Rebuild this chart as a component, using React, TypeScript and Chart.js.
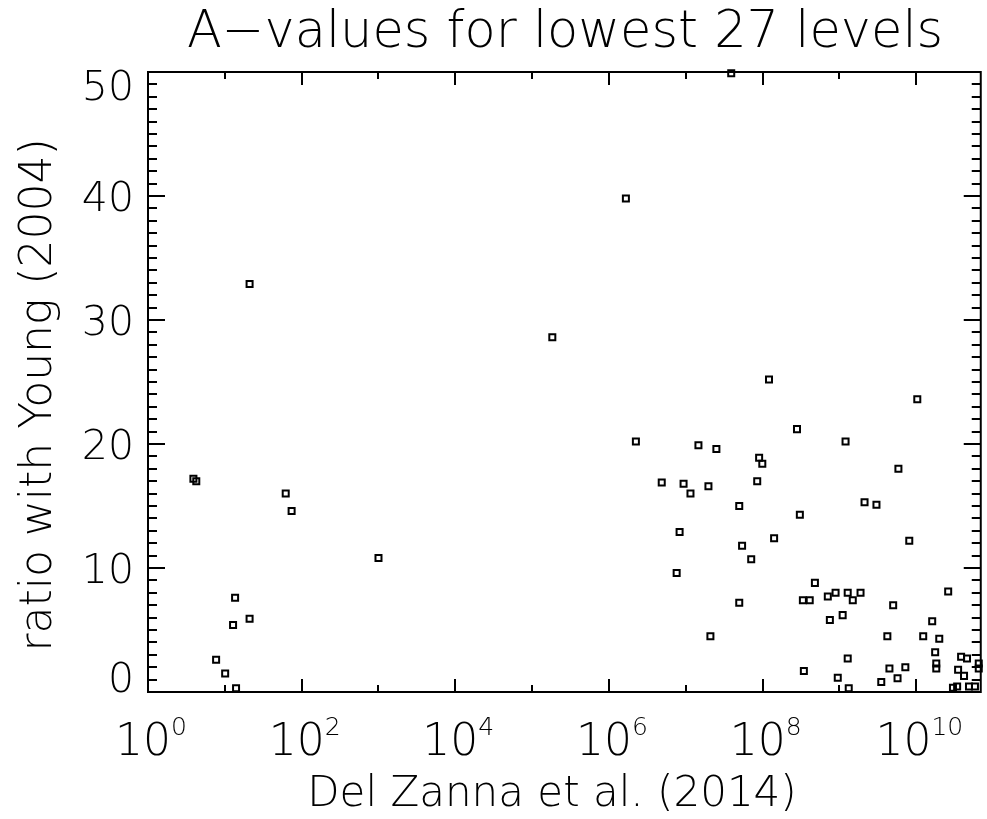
import React, { useEffect, useRef } from "react";
import { Chart, registerables } from "chart.js";

Chart.register(...registerables);

// ---- text ----
const TITLE = "A\u2212values for lowest 27 levels";
const X_TITLE = "Del Zanna et al. (2014)";
const Y_TITLE = "ratio with Young (2004)";

// ---- axis ranges & ticks ----
const X_MIN = 1;
const X_MAX = 6.9e10;
const Y_MIN = 0;
const Y_MAX = 50;
const Y_LABELS = [0, 10, 20, 30, 40, 50];
const X_LABEL_EXPONENTS = [0, 2, 4, 6, 8, 10];
const X_TICK_EXPONENTS = [0, 1, 2, 3, 4, 5, 6, 7, 8, 9, 10];

// ---- data: A-values (Del Zanna et al. 2014) vs ratio with Young (2004) ----
const xValues = [
  3.9, 4.25, 62, 74, 1000, 13.6, 12.8, 21, 7.7, 10.1, 14, 21,
  1.83e5, 1.66e6, 3.9e7, 2.24e6, 1.21e8, 1.03e10, 1.46e7, 2.5e7, 2.8e8, 1.2e9,
  9.0e7, 9.9e7, 5.85e9, 4.86e6, 9.35e6, 1.15e7, 1.97e7, 8.5e7, 4.96e7, 2.12e9,
  3.03e9, 3.05e8, 8.3e6, 1.41e8, 5.4e7, 7.1e7, 8.1e9, 7.6e6, 4.79e8, 4.96e7,
  3.34e8, 4.1e8, 7.05e8, 8.9e8, 1.28e9, 1.49e9, 1.88e9, 5.0e9, 2.6e10, 7.5e8,
  1.1e9, 2.09e7, 4.2e9, 1.23e10, 1.99e10, 1.61e10, 1.28e9, 3.44e8, 9.5e8, 1.32e9,
  3.5e9, 4.47e9, 5.7e9, 7.2e9, 1.76e10, 1.82e10, 1.82e10, 3.83e10, 4.57e10, 3.5e10,
  4.18e10, 6.5e10, 6.5e10, 3.0e10, 3.4e10, 4.85e10, 5.8e10,
];
const yValues = [
  17.2, 17.0, 16.0, 14.6, 10.8, 7.6, 5.4, 5.9, 2.6, 1.5, 0.3, 32.9,
  28.6, 39.8, 49.9, 20.2, 25.2, 23.6, 19.9, 19.6, 21.2, 20.2,
  18.9, 18.4, 18.0, 16.9, 16.8, 16.0, 16.6, 17.0, 15.0, 15.3,
  15.1, 14.3, 12.9, 12.4, 11.8, 10.7, 12.2, 9.6, 8.8, 7.2,
  7.4, 7.4, 7.7, 8.0, 8.0, 7.4, 8.0, 7.0, 8.1, 5.8,
  6.2, 4.5, 4.5, 4.5, 4.3, 5.7, 2.7, 1.7, 1.15, 0.3,
  0.8, 1.9, 1.1, 2.0, 3.2, 2.3, 1.9, 2.85, 2.7, 1.8,
  1.3, 2.3, 1.9, 0.35, 0.45, 0.45, 0.45,
];

const FONT = '"DejaVu Sans", "Liberation Sans", sans-serif';
const W = "200";

const idlFrame = {
  id: "idlFrame",
  afterDraw(chart: any) {
    const ctx: CanvasRenderingContext2D = chart.ctx;
    const { left, right, top, bottom } = chart.chartArea;
    const xs = chart.scales.x;
    const ys = chart.scales.y;
    ctx.save();
    ctx.strokeStyle = "#000";
    ctx.fillStyle = "#000";
    ctx.lineWidth = 2;
    ctx.strokeRect(left, top, right - left, bottom - top);

    ctx.beginPath();
    for (let v = Y_MIN; v <= Y_MAX; v += 1) {
      const py = Math.round(ys.getPixelForValue(v));
      const len = v % 10 === 0 ? 17 : 9;
      ctx.moveTo(left, py);
      ctx.lineTo(left + len, py);
      ctx.moveTo(right, py);
      ctx.lineTo(right - len, py);
    }
    for (const e of X_TICK_EXPONENTS) {
      const px = Math.round(xs.getPixelForValue(Math.pow(10, e)));
      const len = e % 2 === 0 ? 13 : 7;
      ctx.moveTo(px, bottom);
      ctx.lineTo(px, bottom - len);
      ctx.moveTo(px, top);
      ctx.lineTo(px, top + len);
    }
    ctx.stroke();

    // y tick labels
    ctx.font = `${W} 41px ${FONT}`;
    ctx.textAlign = "right";
    ctx.textBaseline = "alphabetic";
    const cap = 30;
    for (const v of Y_LABELS) {
      let cy = ys.getPixelForValue(v);
      cy = Math.max(top + 13, Math.min(bottom - 15, cy));
      ctx.fillText(String(v), 134, cy + cap / 2);
    }

    // x tick labels with superscript exponents
    ctx.textAlign = "left";
    for (const e of X_LABEL_EXPONENTS) {
      const px = xs.getPixelForValue(Math.pow(10, e));
      ctx.font = `${W} 44px ${FONT}`;
      const wBase = ctx.measureText("10").width;
      ctx.font = `${W} 25px ${FONT}`;
      const wExp = ctx.measureText(String(e)).width;
      const x0 = px - (wBase + wExp) / 2 + 3;
      ctx.font = `${W} 44px ${FONT}`;
      ctx.fillText("10", x0, 755);
      ctx.font = `${W} 25px ${FONT}`;
      ctx.fillText(String(e), x0 + wBase, 735);
    }

    // titles
    ctx.textAlign = "center";
    ctx.font = `${W} 51px ${FONT}`;
    ctx.fillText(TITLE, 565, 47);
    ctx.font = `${W} 42px ${FONT}`;
    ctx.fillText(X_TITLE, 552, 806);
    ctx.save();
    ctx.translate(51, 395);
    ctx.rotate(-Math.PI / 2);
    ctx.font = `${W} 44px ${FONT}`;
    ctx.fillText(Y_TITLE, 0, 0);
    ctx.restore();

    ctx.restore();
  },
};

export default function App() {
  const canvasRef = useRef<HTMLCanvasElement | null>(null);

  useEffect(() => {
    const canvas = canvasRef.current;
    if (!canvas) return;
    const points = xValues.map((x, i) => ({ x, y: yValues[i] }));
    const chart = new Chart(canvas, {
      type: "scatter",
      data: {
        datasets: [
          {
            data: points,
            pointStyle: "rect",
            pointRadius: 4.25,
            pointHoverRadius: 4.25,
            pointBorderWidth: 2,
            pointBorderColor: "#000",
            pointBackgroundColor: "rgba(0,0,0,0)",
            showLine: false,
            clip: false as any,
          } as any,
        ],
      },
      options: {
        responsive: false,
        animation: false,
        devicePixelRatio: 1,
        events: [],
        layout: { padding: { left: 148, top: 72, right: 2, bottom: 127 } },
        plugins: {
          legend: { display: false },
          tooltip: { enabled: false },
          title: { display: false },
        },
        scales: {
          x: { type: "logarithmic", min: X_MIN, max: X_MAX, display: false },
          y: { type: "linear", min: Y_MIN, max: Y_MAX, display: false },
        },
      } as any,
      plugins: [idlFrame],
    });
    return () => chart.destroy();
  }, []);

  return (
    <div style={{ position: "fixed", left: 0, top: 0, width: 987, height: 819, background: "#fff" }}>
      <canvas ref={canvasRef} width={987} height={819} style={{ display: "block" }} />
    </div>
  );
}
